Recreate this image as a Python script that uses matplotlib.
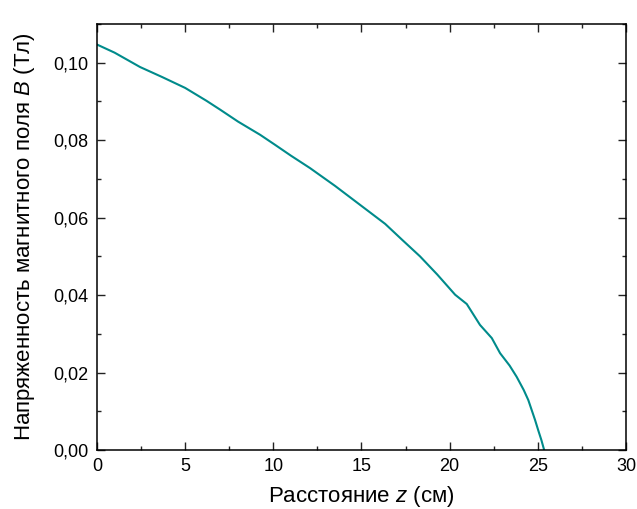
import matplotlib
matplotlib.use('Agg')
import matplotlib.pyplot as plt
from matplotlib.ticker import MultipleLocator, FuncFormatter

plt.rcParams['font.family'] = ['Liberation Sans', 'DejaVu Sans']
plt.rcParams['mathtext.fontset'] = 'custom'
plt.rcParams['mathtext.rm'] = 'Liberation Sans'
plt.rcParams['mathtext.it'] = 'Liberation Sans:italic'

# distance z (cm) and field B (T)
z = [0.0, 1.0, 2.44, 3.7, 5.0, 6.2, 6.98, 8.0, 9.25, 10.1, 11.0, 12.08,
     13.5, 14.92, 16.34, 17.3, 18.32, 19.3, 20.31, 20.97, 21.72, 22.39,
     22.86, 23.4, 23.8, 24.2, 24.46, 24.84, 25.03, 25.2, 25.36]
B = [0.1047, 0.1026, 0.0989, 0.0963, 0.0935, 0.0902, 0.0879, 0.0848,
     0.0814, 0.0788, 0.0760, 0.0728, 0.0682, 0.0633, 0.0584, 0.0543,
     0.0500, 0.0453, 0.0401, 0.0377, 0.0323, 0.0289, 0.0250, 0.0218,
     0.0189, 0.0155, 0.0129, 0.0078, 0.0050, 0.0026, 0.0]

fig = plt.figure(figsize=(6.37, 5.09), dpi=100)
ax = fig.add_axes([0.1523, 0.1159, 0.8304, 0.8369])

ax.plot(z, B, color='#008B8B', lw=1.5)

ax.set_xlim(0, 30)
ax.set_ylim(0, 0.11)
ax.xaxis.set_major_locator(MultipleLocator(5))
ax.xaxis.set_minor_locator(MultipleLocator(2.5))
ax.yaxis.set_major_locator(MultipleLocator(0.02))
ax.yaxis.set_minor_locator(MultipleLocator(0.01))
ax.yaxis.set_major_formatter(FuncFormatter(lambda v, p: '{:.2f}'.format(v).replace('.', ',')))

ax.tick_params(which='both', direction='in', top=True, right=True, labelsize=13, width=1.0, color='#222222')
ax.tick_params(which='major', length=6, pad=6)
ax.tick_params(which='minor', length=3)
for s in ax.spines.values():
    s.set_linewidth(1.1)

ax.set_xlabel(r'Расстояние $\mathit{z}$ (см)', fontsize=16, labelpad=6)
ax.set_ylabel(r'Напряженность магнитного поля $\mathit{B}$ (Тл)', fontsize=16, labelpad=12)

fig.savefig('out.png', dpi=100)
